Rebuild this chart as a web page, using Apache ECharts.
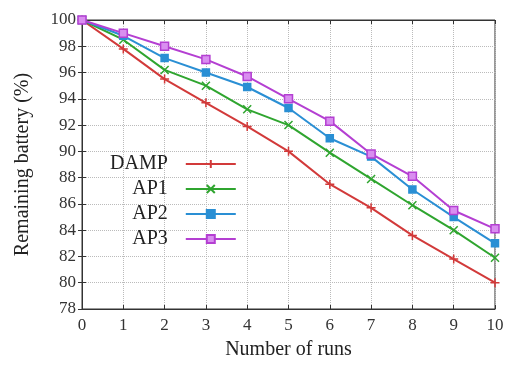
<!DOCTYPE html>
<html>
<head>
<meta charset="utf-8">
<script src="https://cdn.jsdelivr.net/npm/echarts@6/dist/echarts.min.js"></script>
<style>
html,body{margin:0;padding:0;background:#fff;}
#main{width:508px;height:365px;}
</style>
</head>
<body>
<div id="main"></div>
<script>
var runs = [0,1,2,3,4,5,6,7,8,9,10];
var damp = [100,97.8,95.5,93.7,91.9,90.0,87.5,85.7,83.6,81.8,80.0];
var ap1  = [100,98.5,96.2,95.0,93.2,92.0,89.9,87.9,85.9,84.0,81.9];
var ap2  = [100,98.8,97.1,96.0,94.9,93.3,91.0,89.6,87.1,85.0,83.0];
var ap3  = [100,99.0,98.0,97.0,95.7,94.0,92.3,89.8,88.1,85.5,84.1];

var plus = 'path://M5,0L5,10M0,5L10,5';
var cross = 'path://M0,0L10,10M10,0L0,10';

function pairs(arr){
	return runs.map(function(r,i){ return [r,arr[i]]; });
}

var font = '"Liberation Serif", "DejaVu Serif", serif';
var myChart = echarts.init(document.getElementById('main'));

function mkSeries(name,data,color,symbol,size,fill){
	return {
		name:name,
		type:'line',
		data:pairs(data),
		symbol:symbol,
		symbolSize:size,
		lineStyle:{color:color,width:2},
		itemStyle:{color:fill||color,borderColor:color,borderWidth:1.5},
		z:3
	};
}

var option = {
	animation:false,
	backgroundColor:'#fff',
	grid:{left:82,right:13,top:20,bottom:53,show:true,borderColor:'#333',borderWidth:1},
	legend:{
		orient:'vertical',
		left:105,
		top:149,
		align:'right',
		itemWidth:50,
		itemHeight:10,
		itemGap:5,
		textStyle:{fontFamily:font,fontSize:20,color:'#222',padding:[0,13,0,0]},
		data:['DAMP','AP1','AP2','AP3']
	},
	xAxis:[{
		type:'value',min:0,max:10,interval:1,
		name:'Number of runs',nameLocation:'middle',nameGap:31,
		nameTextStyle:{fontFamily:font,fontSize:20,color:'#222'},
		axisLine:{lineStyle:{color:'#333'}},
		axisTick:{inside:true,length:4,lineStyle:{color:'#333'}},
		axisLabel:{fontFamily:font,fontSize:17,color:'#333',margin:8},
		splitLine:{show:true,lineStyle:{color:'#bbb',type:'dotted'}}
	},{
		type:'value',min:0,max:10,interval:1,position:'top',
		axisLine:{lineStyle:{color:'#333'}},
		axisTick:{inside:true,length:4,lineStyle:{color:'#333'}},
		axisLabel:{show:false},splitLine:{show:false}
	}],
	yAxis:[{
		type:'value',min:78,max:100,interval:2,
		name:'Remaining battery (%)',nameLocation:'middle',nameGap:49,
		nameTextStyle:{fontFamily:font,fontSize:20,color:'#222'},
		axisLine:{lineStyle:{color:'#333'}},
		axisTick:{inside:true,length:4,lineStyle:{color:'#333'}},
		axisLabel:{fontFamily:font,fontSize:17,color:'#333',margin:6},
		splitLine:{show:true,lineStyle:{color:'#bbb',type:'dotted'}}
	},{
		type:'value',min:78,max:100,interval:2,position:'right',
		axisLine:{lineStyle:{color:'#333'}},
		axisTick:{inside:true,length:4,lineStyle:{color:'#333'}},
		axisLabel:{show:false},splitLine:{show:false}
	}],
	series:[
		mkSeries('DAMP',damp,'#d23a3a',plus,9),
		mkSeries('AP1',ap1,'#2fa52f',cross,8),
		mkSeries('AP2',ap2,'#2a8fd4','rect',7),
		mkSeries('AP3',ap3,'#b43fd2','rect',8,'#d98ef0')
	]
};
myChart.setOption(option);
</script>
</body>
</html>
